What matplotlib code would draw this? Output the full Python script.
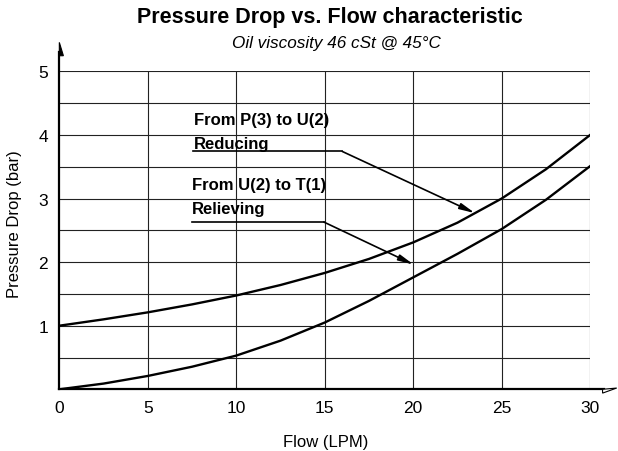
import matplotlib
matplotlib.use("Agg")
import matplotlib.pyplot as plt
from matplotlib.patches import Polygon

plt.rcParams['font.family'] = ['Liberation Sans', 'DejaVu Sans']

# flow (LPM) and pressure drop (bar)
flow = [0, 2.5, 5, 7.5, 10, 12.5, 15, 17.5, 20, 22.5, 25, 27.5, 30]
reducing = [1.00, 1.10, 1.21, 1.335, 1.475, 1.64, 1.83, 2.05, 2.31, 2.62, 3.00, 3.46, 4.00]
relieving = [0.00, 0.09, 0.21, 0.355, 0.53, 0.765, 1.05, 1.39, 1.76, 2.13, 2.52, 2.98, 3.51]

x_ticks = [0, 5, 10, 15, 20, 25, 30]
y_ticks = [1, 2, 3, 4, 5]

fig = plt.figure(figsize=(6.18, 4.52), dpi=100)
ax = fig.add_axes([0.096, 0.1365, 0.859, 0.7035])
ax.set_xlim(0, 30)
ax.set_ylim(0, 5)

# grid
for gx in x_ticks[1:]:
    ax.plot([gx, gx], [0, 5], color='#222222', lw=0.8, zorder=1)
for k in range(1, 11):
    ax.plot([0, 30], [k * 0.5, k * 0.5], color='#222222', lw=0.8, zorder=1)

ax.plot(flow, reducing, color='black', lw=1.7, zorder=3, solid_joinstyle='round')
ax.plot(flow, relieving, color='black', lw=1.7, zorder=3, solid_joinstyle='round')

for s in ax.spines.values():
    s.set_visible(False)

# axes with arrow tips
ax.plot([0, 0], [0, 5.3], color='black', lw=1.6, clip_on=False, zorder=4)
ax.add_patch(Polygon([[0, 5.455], [0.23, 5.245], [0, 5.245]], closed=True,
                     fc='black', ec='black', lw=0.8, clip_on=False, zorder=4))
ax.plot([0, 30.8], [0, 0], color='black', lw=1.6, clip_on=False, zorder=4)
ax.add_patch(Polygon([[30.7, 0], [31.5, 0.02], [30.7, -0.06]], closed=True,
                     fc='white', ec='black', lw=0.8, clip_on=False, zorder=4))

ax.set_xticks(x_ticks)
ax.set_yticks(y_ticks)
ax.tick_params(length=0, labelsize=12.5, pad=8)

# annotations
tf = dict(fontsize=12, fontweight='bold', va='baseline', ha='left')
ax.text(7.6, 4.17, 'From P(3) to U(2)', **tf)
ax.text(7.6, 3.80, 'Reducing', **tf)
ax.text(7.52, 3.15, 'From U(2) to T(1)', **tf)
ax.text(7.5, 2.78, 'Relieving', **tf)

ax.plot([7.57, 15.99], [3.74, 3.74], color='black', lw=1.2, zorder=4)
ax.annotate('', xy=(23.49, 2.77), xytext=(15.99, 3.74),
            arrowprops=dict(arrowstyle='-|>,head_length=0.9,head_width=0.18',
                            color='black', lw=1.2, shrinkA=0, shrinkB=0), zorder=4)
ax.plot([7.48, 14.95], [2.63, 2.63], color='black', lw=1.2, zorder=4)
ax.annotate('', xy=(20.03, 1.96), xytext=(14.95, 2.63),
            arrowprops=dict(arrowstyle='-|>,head_length=0.9,head_width=0.18',
                            color='black', lw=1.2, shrinkA=0, shrinkB=0), zorder=4)

fig.text(0.534, 0.950, 'Pressure Drop vs. Flow characteristic', fontsize=15.5,
         fontweight='bold', ha='center', va='baseline')
fig.text(0.544, 0.8945, 'Oil viscosity 46 cSt @ 45°C', fontsize=12.3,
         style='italic', ha='center', va='baseline')
fig.text(0.5265, 0.0117, 'Flow (LPM)', fontsize=12, ha='center', va='baseline')
fig.text(0.023, 0.505, 'Pressure Drop (bar)', fontsize=12, rotation=90,
         ha='center', va='center')

fig.savefig('out.png', dpi=100)
